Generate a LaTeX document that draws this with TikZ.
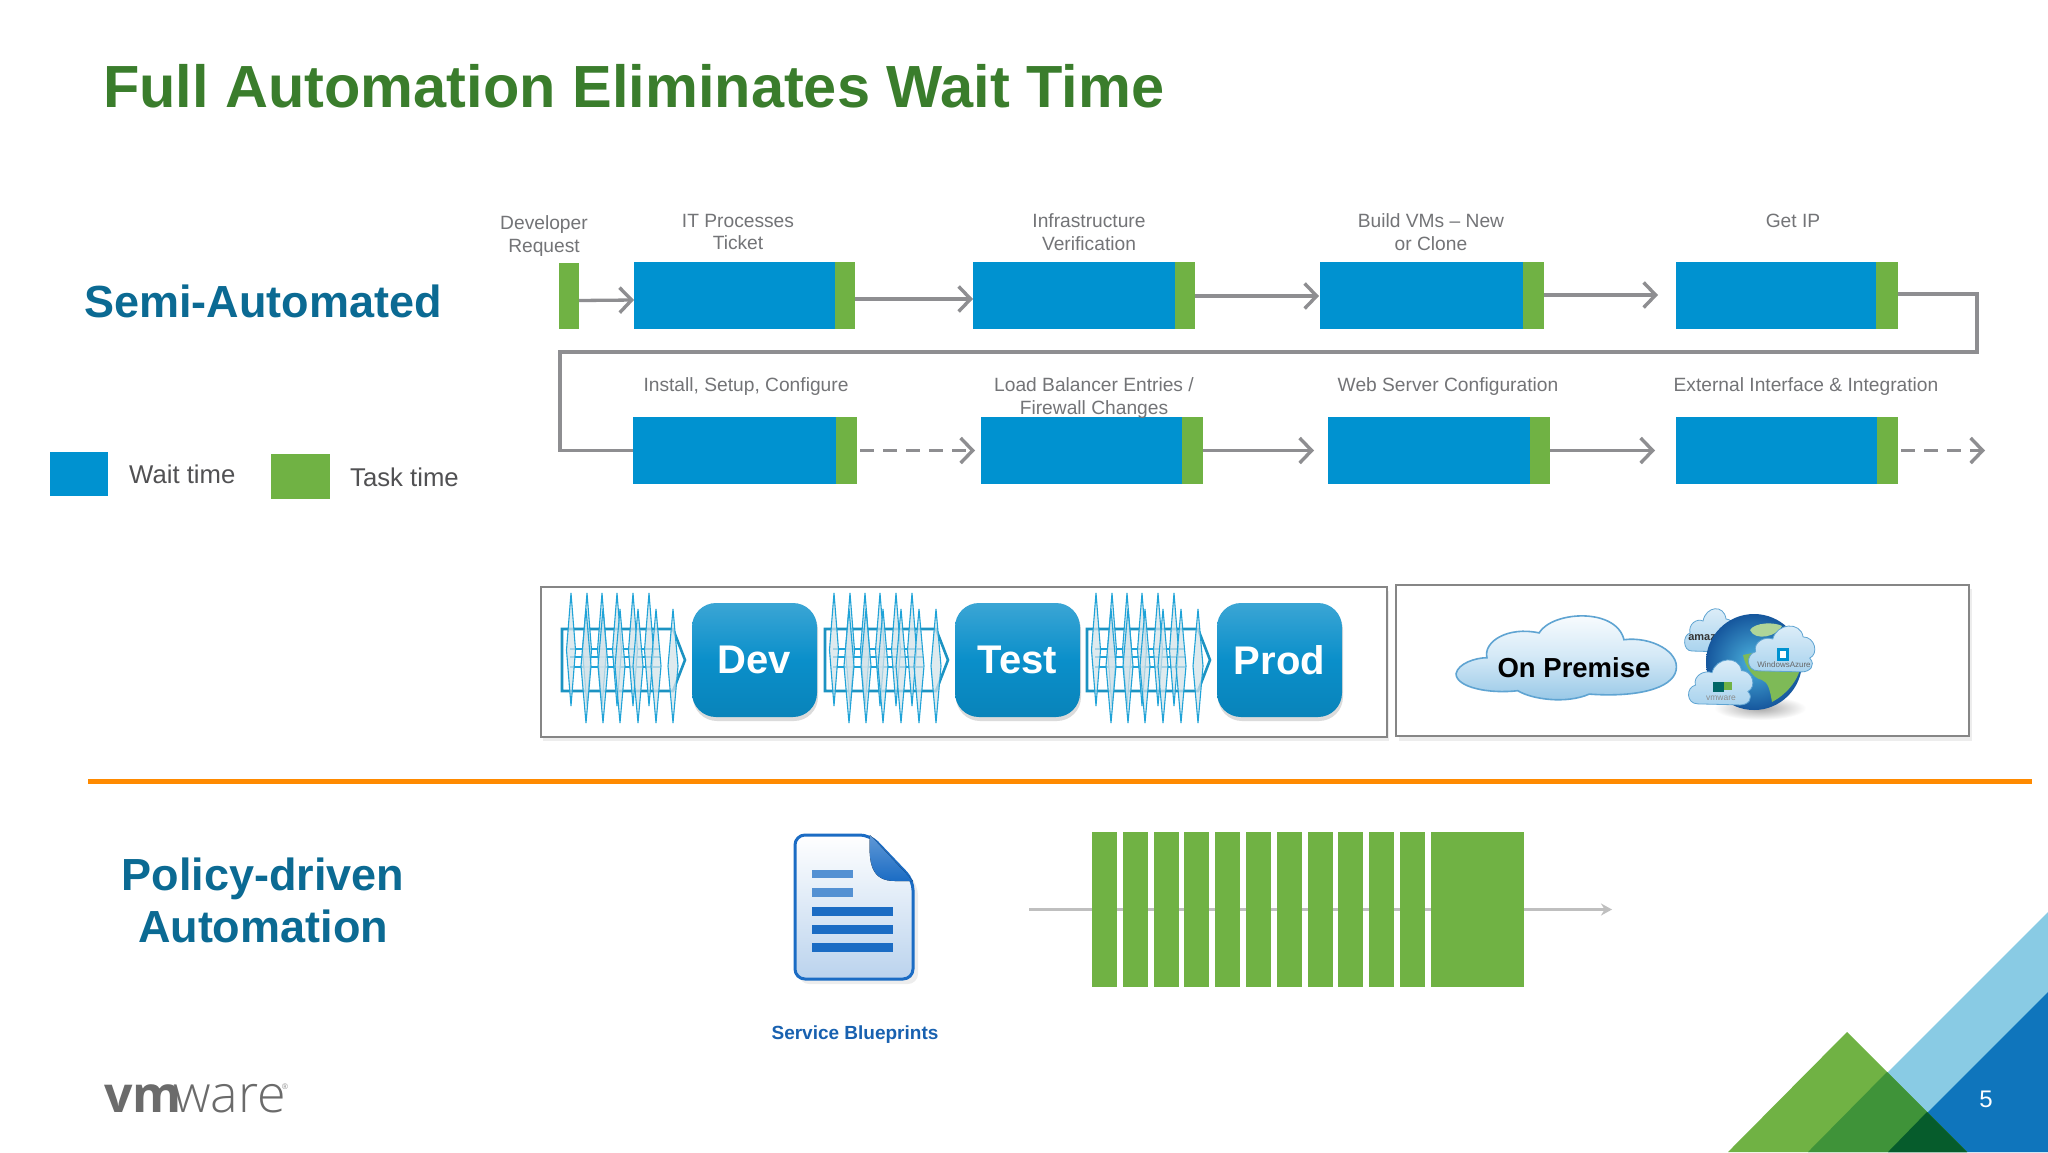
\documentclass[tikz,border=0pt]{standalone}
\usepackage{fontspec}
\setmainfont{Liberation Sans}
\newfontfamily\logofont{Open Sans}
\newfontfamily\logolight{Open Sans Light}
\usetikzlibrary{arrows.meta,shadings}
\definecolor{waitc}{HTML}{0092D0}
\definecolor{taskc}{HTML}{70B244}
\definecolor{gline}{HTML}{8E8E91}
\definecolor{labelc}{HTML}{737477}
\definecolor{headc}{HTML}{0B6A93}
\definecolor{titlec}{HTML}{3A7D2C}
\definecolor{btnc}{HTML}{0A8FCA}
\definecolor{hypec}{HTML}{1FA3D8}
\definecolor{cloudl}{HTML}{A9D3EE}
\definecolor{cloude}{HTML}{5FA4D2}
\definecolor{docb}{HTML}{1B6CC4}
\newcommand{\fsz}[1]{\fontsize{#1}{#1}\selectfont}
\tikzset{
  wait/.style={fill=waitc,draw=none,inner sep=0pt,outer sep=0pt,anchor=north west},
  task/.style={fill=taskc,draw=none,inner sep=0pt,outer sep=0pt,anchor=north west},
  lab/.style={text=labelc,align=center,inner sep=0pt,font=\fsz{19.2},text depth=0pt},
  head/.style={text=headc,align=center,inner sep=0pt,font=\bfseries\fsz{45}},
  conn/.style={draw=gline,line width=3.3pt,-{Straight Barb[length=12pt,width=25pt,line width=3.4pt]}},
  elbow/.style={draw=gline,line width=3.3pt,line join=miter},
  dashc/.style={conn,dash pattern=on 14pt off 9pt},
  frame/.style={draw=gray!95,line width=2pt,fill=white,inner sep=0pt,outer sep=0pt,anchor=north west},
  btn/.style={rounded corners=24pt,top color=btnc!80!white,bottom color=btnc!92!black,middle color=btnc,inner sep=0pt,outer sep=0pt,anchor=north west,text=white,font=\bfseries\fsz{40},minimum width=125pt,minimum height=114pt},
  bar/.style={fill=taskc,draw=none,inner sep=0pt,outer sep=0pt,anchor=north west,minimum height=155pt},
  hype/.style={draw=hypec,line width=1.1pt,fill=hypec!45!gray!25!white,fill opacity=.75},
}
\newcommand{\procbox}[6]{%
  \pgfmathsetmacro{\wa}{#3-#2}\pgfmathsetmacro{\wb}{#4-#3}\pgfmathsetmacro{\hh}{#6-#5}%
  \node[wait,minimum width=\wa pt,minimum height=\hh pt] (#1w) at (#2,#5) {};
  \node[task,minimum width=\wb pt,minimum height=\hh pt] (#1t) at (#3,#5) {};
}
\newcommand{\hypearrow}[1]{%
  \begin{scope}[shift={(#1,0)}]
    \draw[draw=hypec!90!black,line width=2.6pt,line join=miter] (562,629)--(673,629)--(685,660)--(673,691)--(562,691)--cycle;
    \foreach \yy in {649,657,667} \draw[draw=hypec,line width=1.2pt] (570,\yy)--(660,\yy);
    \foreach \xx in {571,587,602,617,633,649} \draw[hype] (\xx,593)--(\xx+4.5,650)--(\xx,706)--(\xx-4.5,650)--cycle;
    \foreach \xx in {586,603,620,638,656,673} \draw[hype] (\xx,609)--(\xx+5,666)--(\xx,723)--(\xx-5,666)--cycle;
  \end{scope}
}
\newcommand{\smallcloud}[4]{%
  \begin{scope}[shift={(#1,#2)},x=#3pt,y=-#4pt]
    \draw[draw=cloude,line width=.8pt,top color=cloudl!35!white,bottom color=cloudl]
      (14,94) .. controls (-5,94) and (-5,62) .. (10,58)
      .. controls (6,40) and (24,28) .. (36,34)
      .. controls (42,4) and (78,0) .. (82,30)
      .. controls (100,30) and (106,62) .. (92,70)
      .. controls (102,84) and (92,96) .. (80,96) -- cycle;
  \end{scope}
}
\begin{document}
\begin{tikzpicture}[x=1pt,y=-1pt]
\useasboundingbox (0,0) rectangle (2048,1152);
\fill[white] (0,0) rectangle (2048,1152);

% Title
\node[anchor=base west,inner sep=0pt,text=titlec,font=\bfseries\fsz{59.5}] (title) at (103,107) {Full Automation Eliminates Wait Time};
\node[head] (semi) at (263,301) {Semi-Automated};
\node[head,font=\bfseries\fsz{45}] (policy) at (263,900) {Policy-driven\\[7pt]Automation};

% Legend
\node[wait,minimum width=58pt,minimum height=44pt] (lw) at (50,452) {};
\node[anchor=west,inner sep=0pt,text=labelc!70!black,font=\fsz{25.7}] (lwt) at (129,474) {Wait time};
\node[task,minimum width=59pt,minimum height=45pt] (lt) at (271,454) {};
\node[anchor=west,inner sep=0pt,text=labelc!70!black,font=\fsz{25.7}] (ltt) at (350,477) {Task time};

% Row 1
\node[task,minimum width=20pt,minimum height=66pt] (g0) at (559,263) {};
\procbox{a}{634}{835}{855}{262}{329}
\procbox{b}{973}{1175}{1195}{262}{329}
\procbox{c}{1320}{1523}{1544}{262}{329}
\procbox{d}{1676}{1876}{1898}{262}{329}
% Row 2
\procbox{e}{633}{836}{857}{417}{484}
\procbox{f}{981}{1182}{1203}{417}{484}
\procbox{g}{1328}{1530}{1550}{417}{484}
\procbox{h}{1676}{1877}{1898}{417}{484}

% Labels
\node[lab] (l0) at (544,234) {Developer\\[3pt]Request};
\node[lab] (l1) at (738,232) {IT Processes\\[3pt]Ticket};
\node[lab] (l2) at (1089,232) {Infrastructure\\[3pt]Verification};
\node[lab] (l3) at (1431,232) {Build VMs – New\\[3pt]or Clone};
\node[lab] (l4) at (1793,221) {Get IP};
\node[lab] (l5) at (746,385) {Install, Setup, Configure};
\node[lab] (l6) at (1094,396) {Load Balancer Entries /\\[3pt]Firewall Changes};
\node[lab] (l7) at (1448,385) {Web Server Configuration};
\node[lab] (l8) at (1806,385) {External Interface \& Integration};

% Connectors row 1
\draw[conn] ([yshift=-4.5pt]g0.east) -- ([yshift=-4.5pt]aw.west);
\draw[conn] ([yshift=-3.5pt]at.east) -- ([yshift=-3.5pt]bw.west);
\draw[conn] ([yshift=-.5pt]bt.east) -- ([xshift=-1pt,yshift=-.5pt]cw.west);
\draw[conn] ([yshift=.5pt]ct.east) -- ([xshift=-18pt,yshift=.5pt]dw.west);
% Wrap connector
\coordinate (w1) at (1977,294);
\coordinate (w2) at (1977,352);
\coordinate (w3) at (560,352);
\draw[elbow] ([yshift=1.5pt]dt.east) -- (w1) -- (w2) -- (w3) -- (w3 |- ew.west) -- (ew.west);
% Connectors row 2
\coordinate (e2) at (975,450.5);
\draw[dashc] ([xshift=3pt]et.east) -- (e2);
\coordinate (e3) at (1314,450.5);
\draw[conn] (ft.east) -- (e3);
\coordinate (e4) at (1655,450.5);
\draw[conn] (gt.east) -- (e4);
\coordinate (e5) at (1985,450.5);
\draw[dashc] ([xshift=3pt]ht.east) -- (e5);

% Pipeline frame
\fill[black,opacity=.07] (543,591) rectangle (1389,741);
\node[frame,minimum width=846pt,minimum height=150pt] (pipe) at (541,587) {};
\hypearrow{0}\hypearrow{263}\hypearrow{525}
\foreach \nm/\xx/\tx in {dev/692/Dev,test/955/Test,prod/1217/Prod}{
  \fill[black,opacity=.14,rounded corners=24pt] (\xx+1,606) rectangle (\xx+126,721);
  \node[btn] (\nm) at (\xx,603) {\raisebox{-2pt}{\tx}};
}

% Cloud frame
\fill[black,opacity=.07] (1399,589) rectangle (1972,741);
\node[frame,minimum width=573pt,minimum height=151pt] (cloudf) at (1396,585) {};

% On premise cloud
\begin{scope}[shift={(1388.5,570)},x=.386pt,y=-.34pt]
  \draw[draw=cloude,line width=1.6pt,top color=white,bottom color=cloudl!70!cloude,middle color=cloudl!50!white]
    (175,305) .. controls (180,275) and (225,258) .. (255,258)
    .. controls (245,210) and (310,165) .. (390,185)
    .. controls (425,120) and (590,110) .. (610,205)
    .. controls (680,195) and (755,240) .. (745,295)
    .. controls (735,350) and (640,375) .. (520,365)
    .. controls (460,395) and (370,380) .. (335,355)
    .. controls (260,365) and (175,345) .. (175,305) -- cycle;
\end{scope}
\node[inner sep=0pt,text=black,font=\bfseries\fsz{27.5}] (prem) at (1574,668) {On Premise};

% Globe cluster
\shade[shading=radial,inner color=black!35,outer color=white] (1760,708) ellipse (46pt and 12pt);
\smallcloud{1685}{604}{.5}{.5}
\node[inner sep=0pt,text=black!80,font=\bfseries\fsz{11}] (amz) at (1702,638) {amaz};
\shade[inner color=waitc!70!white,outer color=docb!80!black] (1754,662) circle (48pt);
\fill[taskc!90!white] (1743,655) .. controls (1745,665) and (1752,678) .. (1762,680) .. controls (1768,682) and (1770,690) .. (1772,702) .. controls (1785,695) and (1798,682) .. (1801,665) -- (1790,645) -- cycle;
\fill[taskc!55!white] (1750,630) .. controls (1755,622) and (1775,622) .. (1782,626) .. controls (1778,636) and (1755,642) .. (1750,630) -- cycle;
\smallcloud{1749}{621}{.66}{.53}
\fill[waitc] (1777,648) rectangle (1789,661);
\fill[white] (1780,651) rectangle (1786,658);
\node[inner sep=0pt,text=black!60,font=\fsz{8}] (azu) at (1784,665) {WindowsAzure};
\smallcloud{1689}{655}{.64}{.52}
\fill[teal!80!black] (1713,682) rectangle (1724,692);
\fill[taskc] (1724,682) rectangle (1732,690);
\node[inner sep=0pt,text=black!45,font=\fsz{8.5}] (vmw) at (1721,698) {vmware};

% Orange rule
\coordinate (r1) at (88,781);
\coordinate (r2) at (2032,781);
\draw[draw=orange!80!yellow!90!red,line width=5pt] (r1) -- (r2);

% Blueprint icon
\fill[black,opacity=.07,rounded corners=10pt] (799,840) -- (876,840) -- (918,885) -- (918,984) -- (799,984) -- cycle;
\draw[draw=docb,line width=3pt,rounded corners=10pt,top color=white,bottom color=docb!30!white]
  (795,979) -- (795,835) -- (870,835) -- (913,880) -- (913,979) -- cycle;
\fill[top color=docb!70!white,bottom color=docb]
  (870,835) .. controls (868,865) and (872,881) .. (895,881) -- (913,881) -- cycle;
\fill[docb!75!white] (812,870) rectangle (853,878);
\fill[docb!75!white] (812,888) rectangle (853,897);
\foreach \yy in {907,925,943} \fill[docb] (812,\yy) rectangle (893,\yy+9);
\node[inner sep=0pt,text=docb!90!black,font=\bfseries\fsz{19}] (sb) at (855,1034.5) {Service Blueprints};

% Green bar flow
\coordinate (fs) at (1029,909.5);
\coordinate (fe) at (1612,909.5);
\draw[draw=gray!50,line width=3pt,-{Stealth[length=11pt,width=12pt]}] (fs) -- (fe);
\foreach \i in {0,...,10}{
  \node[bar,minimum width=25pt] (bar\i) at ({1092+\i*30.8},832) {};
}
\node[bar,minimum width=93pt] (barbig) at (1431,832) {};

% Corner triangles
\definecolor{lbl}{HTML}{89CBE4}
\definecolor{dbl}{HTML}{0F75BC}
\definecolor{tg1}{HTML}{3F9339}
\definecolor{tg2}{HTML}{065C2C}
\fill[lbl] (1808,1152) -- (2048,912) -- (2048,1152) -- cycle;
\fill[dbl] (1888,1152) -- (2048,992) -- (2048,1152) -- cycle;
\fill[taskc] (1728,1152) -- (1847,1032) -- (1967,1152) -- cycle;
\fill[tg1] (1808,1152) -- (1887,1072) -- (1967,1152) -- cycle;
\fill[tg2] (1888,1152) -- (1927,1112) -- (1967,1152) -- cycle;
\node[inner sep=0pt,text=white,font=\fsz{24}] (pg) at (1986,1099) {5};

% Logo
\node[anchor=base west,inner sep=0pt,text=black!58,font=\logofont\bfseries\fsz{50}] (vm) at (104,1112) {vm};
\node[anchor=base west,inner sep=0pt,text=black!58,font=\logolight\fsz{52}] (ware) at (173,1112) {ware};
\node[inner sep=0pt,text=black!45,font=\fsz{8}] (reg) at (285,1087) {®};
\end{tikzpicture}
\end{document}
